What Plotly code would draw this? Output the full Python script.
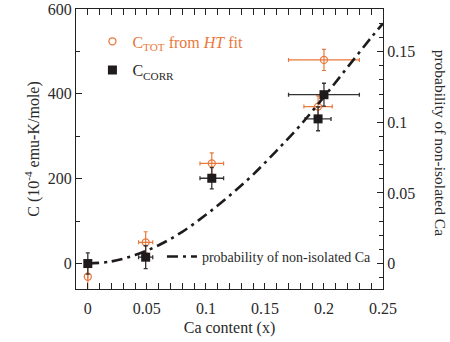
import plotly.graph_objects as go

# ---- data ----
x_tot = [0.0, 0.049, 0.105, 0.195, 0.200]
c_tot = [-31, 50, 236, 370, 480]
c_tot_err = [35, 25, 25, 25, 25]
x_tot_err = [0.0, 0.006, 0.010, 0.012, 0.030]

x_corr = [0.0, 0.049, 0.105, 0.195, 0.200]
c_corr = [0, 15, 201, 341, 398]
c_corr_err = [25, 27, 25, 28, 27]
x_corr_err = [0.0, 0.006, 0.010, 0.011, 0.030]

x_prob = [0.0, 0.02, 0.04, 0.06, 0.08, 0.10, 0.12, 0.14, 0.16, 0.18, 0.20, 0.22, 0.24, 0.25]
p_prob = [0.0, 0.0015, 0.0060, 0.0130, 0.0225, 0.0345, 0.048, 0.063, 0.080, 0.098, 0.118, 0.139, 0.160, 0.170]

x_ticks = [0, 0.05, 0.1, 0.15, 0.2, 0.25]
x_ticklabels = ["0", "0.05", "0.1", "0.15", "0.2", "0.25"]
y_ticks = [0, 200, 400, 600]
y2_ticks = [0, 0.05, 0.1, 0.15]
y2_ticklabels = ["0", "0.05", "0.1", "0.15"]

ORANGE = "#E8783C"
BLACK = "#1f1b1c"
FONT = "Liberation Serif"
TXT = "#2a2a2a"

fig = go.Figure()

fig.add_trace(go.Scatter(
    x=x_prob, y=p_prob, yaxis="y2", mode="lines", line_shape="spline",
    line=dict(color=BLACK, width=2.6, dash="11px,5px,3px,5px"),
    name="probability of non-isolated Ca", legend="legend2"))

fig.add_trace(go.Scatter(
    x=x_tot, y=c_tot, mode="markers",
    marker=dict(symbol="circle-open", size=7, color=ORANGE, line=dict(width=1.3)),
    error_y=dict(type="data", array=c_tot_err, color=ORANGE, thickness=1.2, width=2),
    error_x=dict(type="data", array=x_tot_err, color=ORANGE, thickness=1.2, width=2),
    name="<span style='color:%s'>C<sub>TOT</sub> from <i>HT</i> fit</span>" % ORANGE,
    legend="legend", legendgroup="a"))

fig.add_trace(go.Scatter(
    x=x_corr, y=c_corr, mode="markers",
    marker=dict(symbol="square", size=9, color=BLACK),
    error_y=dict(type="data", array=c_corr_err, color="#333333", thickness=1.3, width=2),
    error_x=dict(type="data", array=x_corr_err, color="#333333", thickness=1.3, width=2),
    name="C<sub>CORR</sub>", legend="legend", legendgroup="b"))

axis_common = dict(showgrid=False, zeroline=False, ticks="inside", automargin=False,
                   linecolor="#222", linewidth=1.2, tickcolor="#222",
                   tickfont=dict(family=FONT, size=16, color=TXT))

fig.update_layout(
    width=450, height=342,
    margin=dict(l=76, r=67, t=9, b=53, autoexpand=False),
    paper_bgcolor="white", plot_bgcolor="white",
    font=dict(family=FONT, size=16, color=TXT),
    xaxis=dict(range=[-0.01, 0.25], tickvals=x_ticks, ticktext=x_ticklabels,
               ticklen=6, mirror="allticks", ticklabelstandoff=5,
               minor=dict(dtick=0.01, tick0=0, ticks="inside", ticklen=4, tickcolor="#222"),
               title=dict(text="Ca content (x)", font=dict(family=FONT, size=16, color=TXT), standoff=5),
               **axis_common),
    yaxis=dict(range=[-60, 600], tickvals=y_ticks, ticklen=6, mirror=True,
               minor=dict(dtick=100, tick0=0, ticks="inside", ticklen=4, tickcolor="#222"),
               title=dict(text="C (10<sup>-4</sup> emu-K/mole)", font=dict(family=FONT, size=16, color=TXT), standoff=4),
               **axis_common),
    yaxis2=dict(overlaying="y", side="right", range=[-0.0180, 0.1802],
                tickvals=y2_ticks, ticktext=y2_ticklabels, ticklen=6,
                minor=dict(dtick=0.01, tick0=0, ticks="inside", ticklen=4, tickcolor="#222"),
                **axis_common),
    legend=dict(x=0.0535, y=0.945, xanchor="left", yanchor="top", bgcolor="rgba(0,0,0,0)",
                tracegroupgap=5, font=dict(family=FONT, size=16, color=TXT)),
    legend2=dict(x=0.28, y=0.172, xanchor="left", yanchor="top", bgcolor="rgba(0,0,0,0)",
                 font=dict(family=FONT, size=14, color=TXT)),
    showlegend=True,
    annotations=[dict(text="probability of non-isolated Ca", xref="paper", yref="paper",
                      x=1.188, y=0.52, xanchor="center", yanchor="middle", textangle=90,
                      showarrow=False, font=dict(family=FONT, size=15.5, color=TXT))],
)

fig.write_html("out.html", config={"displayModeBar": False},
               post_script="document.body.style.margin='0';document.body.style.padding='0';")
